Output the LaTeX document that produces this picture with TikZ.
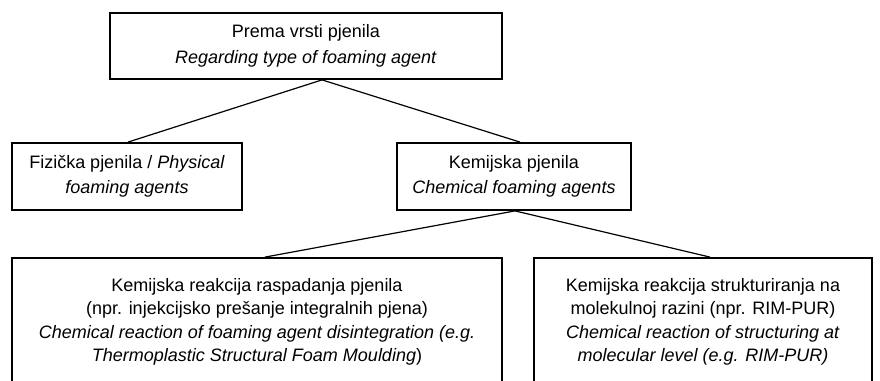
\documentclass[tikz,border=0pt]{standalone}
\usepackage{fontspec}
\setmainfont{Liberation Sans}
\begin{document}
\begin{tikzpicture}[x=1pt,y=-1pt,
  box/.style={draw, line width=1.8pt, align=center, inner sep=0pt,
    font=\fontsize{18}{25}\selectfont},
  tallbox/.style={box, font=\fontsize{18}{23.5}\selectfont},
  link/.style={line width=1.2pt}]
\useasboundingbox (0,0) rectangle (880,380);
\clip (0,0) rectangle (880,380);

% classification root
\node[box, font=\fontsize{18}{26}\selectfont, minimum width=392pt, minimum height=66pt]
  (root) at (306,46)
  {Prema vrsti pjenila\\\textit{Regarding type of foaming agent}};

% second level
\node[box, minimum width=230pt, minimum height=67pt] (phys) at (127,176.5)
  {Fizička pjenila / \textit{Physical}\\\textit{foaming agents}};
\node[box, minimum width=234pt, minimum height=67pt] (chem) at (514,176.5)
  {Kemijska pjenila\\\textit{Chemical foaming agents}};

% third level (the boxes run on past the lower edge)
\node[tallbox, minimum width=490pt, minimum height=128pt] (decomp) at (257,322)
  {Kemijska reakcija raspadanja pjenila\\
   (npr. injekcijsko prešanje integralnih pjena)\\
   \textit{Chemical reaction of foaming agent disintegration (e.g.}\\
   \textit{Thermoplastic Structural Foam Moulding})};
\node[tallbox, minimum width=338pt, minimum height=128pt] (struct) at (703,322)
  {Kemijska reakcija strukturiranja na\\
   molekulnoj razini (npr. RIM-PUR)\\
   \textit{Chemical reaction of structuring at}\\
   \textit{molecular level (e.g. RIM-PUR)}};

% connectors
\draw[link] ([xshift=16pt]root.south) -- ([xshift=1pt]phys.north);
\draw[link] ([xshift=16pt]root.south) -- ([xshift=6pt]chem.north);
\draw[link] ([xshift=1pt]chem.south) -- ([xshift=8pt]decomp.north);
\draw[link] ([xshift=1pt]chem.south) -- ([xshift=7pt]struct.north);
\end{tikzpicture}
\end{document}
